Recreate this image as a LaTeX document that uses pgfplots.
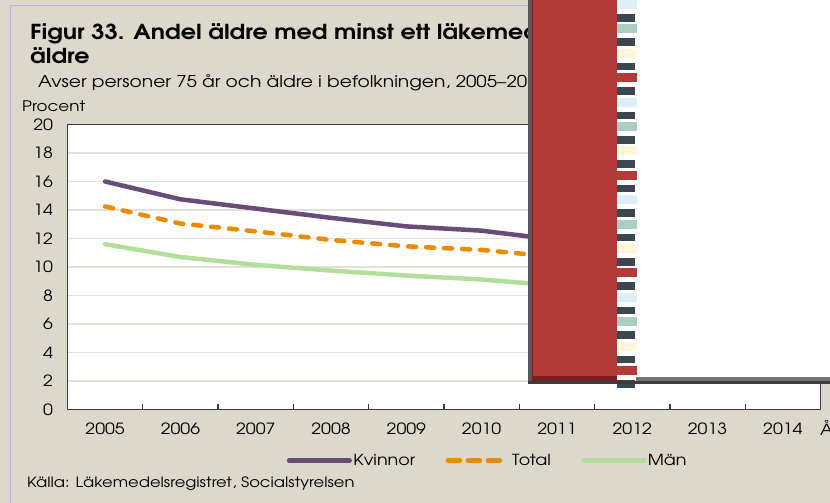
\documentclass[border=0pt]{standalone}
\usepackage{fontspec}
\setmainfont{TeX Gyre Adventor}[FakeStretch=1.15]
\usepackage{pgfplots}
\pgfplotsset{compat=1.18}
\definecolor{bg}{HTML}{DBD8CC}
\definecolor{lav}{HTML}{B4B4E6}
\definecolor{gridc}{HTML}{E4E0D8}
\definecolor{axc}{HTML}{3C3C3C}
\definecolor{kvin}{HTML}{6A4C79}
\definecolor{tot}{HTML}{EE8A00}
\definecolor{man}{HTML}{B3DE9A}
\definecolor{winred}{HTML}{B23A37}
\definecolor{darkred}{HTML}{7A1F1F}
\definecolor{stripe}{HTML}{3C4650}
\definecolor{sblue}{HTML}{DCEEFA}
\definecolor{steal}{HTML}{A8CFC0}
\definecolor{scream}{HTML}{FFF6D8}
\pgfplotsset{
  lineleg/.style={legend image code/.code={%
    \path[draw=none,fill=none] (0bp,-2bp) rectangle (65bp,2bp);
    \draw[##1] (2.25bp,0bp) -- (62.75bp,0bp);}},
  totleg/.style={legend image code/.code={%
    \path[draw=none,fill=none] (0bp,-2bp) rectangle (65bp,2bp);
    \draw[##1,dash pattern=on 12bp off 8bp] (2.25bp,0bp) -- (54.25bp,0bp);}},
}

\begin{document}
\begin{tikzpicture}
\useasboundingbox (0,0) rectangle (830bp,-503bp);
\fill[bg] (0,0) rectangle (830bp,-503bp);
\draw[lav,line width=1.5bp] (10.5bp,-503bp) -- (10.5bp,-5.5bp) -- (528bp,-5.5bp);

\begin{scope}[x=1bp,y=-1bp]
  \node[anchor=base west,inner sep=0,font=\fontsize{20.7}{21}\selectfont\bfseries] at (30,39)
    {Figur 33. Andel äldre med minst ett läkemedel som bör undvikas till};
  \node[anchor=base west,inner sep=0,font=\fontsize{20.7}{21}\selectfont\bfseries] at (30,63) {äldre};
  \node[anchor=base west,inner sep=0,font=\fontsize{16.3}{17}\selectfont] at (38,87)
    {Avser personer 75 år och äldre i befolkningen, 2005–2014};
  \node[anchor=base west,inner sep=0,font=\fontsize{14.6}{15}\selectfont] at (22,111) {Procent};
  \node[anchor=base west,inner sep=0,font=\fontsize{15.5}{15}\selectfont] at (820,435) {År};
  \node[anchor=base west,inner sep=0,font=\fontsize{14.3}{15}\selectfont] at (27,487)
    {Källa: Läkemedelsregistret, Socialstyrelsen};
\end{scope}

\begin{axis}[
  at={(67.5bp,-409.5bp)},anchor=south west,
  scale only axis,width=753bp,height=285bp,
  xmin=-0.5,xmax=9.5,ymin=0,ymax=20,
  xtick={0,...,9},
  xticklabels={2005,2006,2007,2008,2009,2010,2011,2012,2013,2014},
  minor xtick={0.5,1.5,...,8.5},
  ytick={0,2,...,20},
  major tick length=0pt,minor tick length=6bp,
  tick align=inside,xtick pos=left,ytick pos=left,
  ymajorgrids,major grid style={draw=gridc,line width=1.5bp},
  axis line style={draw=axc,line width=1.3bp},
  every tick/.style={draw=axc,line width=1.3bp},
  axis background/.style={fill=white},
  tick label style={font=\fontsize{15.5}{15}\selectfont,text=black},
  /pgf/number format/assume math mode=true,
  xticklabel style={anchor=base,yshift=-25bp},
  yticklabel style={anchor=east,xshift=-11bp},
  legend style={at={(0.5578,-0.179)},anchor=center,draw=none,fill=none,
    font=\fontsize{15.3}{16}\selectfont,legend columns=3,
    nodes={inner sep=1.5bp},
    /tikz/every even column/.append style={column sep=29bp},
    inner sep=0pt},
  lineleg,
  legend cell align=left,
]
\addplot[kvin,line width=4.5bp,line join=round,line cap=round] coordinates
  {(0,16.0)(1,14.75)(2,14.1)(3,13.45)(4,12.85)(5,12.55)(6,11.9)};
\addlegendentry{Kvinnor}
\addplot[tot,line width=4.5bp,line join=round,line cap=round,dash pattern=on 8bp off 10bp,totleg]
  coordinates
  {(0,14.25)(1,13.05)(2,12.5)(3,11.9)(4,11.45)(5,11.2)(6,10.7)};
\addlegendentry{Total}
\addplot[man,line width=4.5bp,line join=round,line cap=round] coordinates
  {(0,11.6)(1,10.7)(2,10.15)(3,9.75)(4,9.4)(5,9.12)(6,8.7)};
\addlegendentry{Män}
\end{axis}

% window lying over the right part of the chart
\begin{scope}[x=1bp,y=-1bp]
  \fill[white] (528,0) rectangle (830,383);
  \fill[winred] (528,0) rectangle (617,381);
  \fill[darkred] (528,376) rectangle (617,381);
  \fill[black!55] (636,377) rectangle (830,380.5);
  \foreach \i/\c in {0/sblue,1/steal,2/scream,3/winred,4/sblue,5/steal,6/scream,7/winred,
                     8/sblue,9/steal,10/scream,11/winred,12/sblue,13/steal,14/scream,15/winred} {
    \fill[\c] (617,{\i*24.4}) rectangle (637,{\i*24.4+9});
    \fill[stripe] (617,{\i*24.4+14}) rectangle (635,{\i*24.4+21.5});
  }
  \fill[black!65] (528,0) rectangle (531.5,383.5);
  \fill[darkred] (531.5,0) rectangle (533,378);
  \fill[axc] (528,380.5) rectangle (830,383.5);
\end{scope}
\end{tikzpicture}
\end{document}
